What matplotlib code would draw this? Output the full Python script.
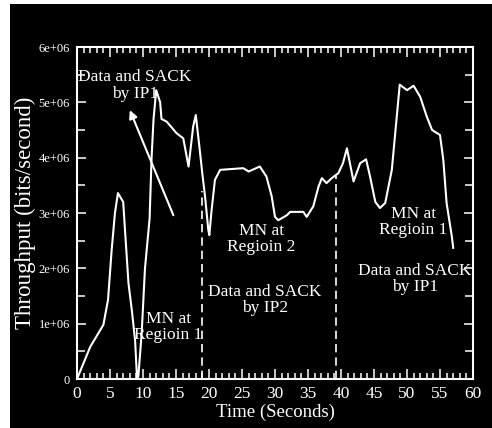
import matplotlib
matplotlib.use("Agg")
import matplotlib.pyplot as plt
from matplotlib.patches import Rectangle
import numpy as np

# ---- data ----
time_s = [0, 2.0, 4.0, 4.7, 5.25, 5.75, 6.2, 7.0, 7.3, 7.8, 8.3, 8.8, 9.1, 9.3,
          9.8, 10.3, 11.0, 11.3, 11.6, 12.0, 12.6, 12.8, 13.6, 15.1, 16.1, 16.9,
          17.6, 18.0, 18.6, 19.0, 19.4, 19.9, 20.05, 20.4, 20.9, 21.7, 25.2, 26.0,
          27.7, 28.7, 29.5, 30.0, 30.5, 31.8, 32.3, 34.3, 34.8, 35.8, 36.6, 37.1,
          37.8, 38.6, 39.6, 40.3, 40.9, 41.9, 42.9, 43.8, 44.4, 45.2, 45.9, 46.7,
          47.7, 48.4, 48.9, 50.0, 51.0, 52.0, 53.0, 53.8, 55.0, 55.5, 56.0, 56.8, 57.0]
throughput = [0, 0.58e6, 0.98e6, 1.43e6, 2.33e6, 3.0e6, 3.36e6, 3.2e6, 2.64e6, 1.73e6,
              1.25e6, 0.7e6, 0.0, 0.05e6, 0.83e6, 2.0e6, 2.9e6, 4.0e6, 4.7e6, 5.22e6,
              5.0e6, 4.7e6, 4.65e6, 4.44e6, 4.35e6, 3.84e6, 4.56e6, 4.77e6, 4.14e6,
              3.7e6, 3.3e6, 2.69e6, 2.6e6, 3.06e6, 3.6e6, 3.78e6, 3.81e6, 3.75e6,
              3.84e6, 3.66e6, 3.3e6, 2.93e6, 2.87e6, 2.96e6, 3.02e6, 3.02e6, 2.93e6,
              3.12e6, 3.48e6, 3.63e6, 3.54e6, 3.63e6, 3.72e6, 3.9e6, 4.17e6, 3.57e6,
              3.9e6, 3.97e6, 3.66e6, 3.2e6, 3.09e6, 3.18e6, 3.78e6, 4.68e6, 5.32e6,
              5.22e6, 5.3e6, 5.1e6, 4.74e6, 4.5e6, 4.41e6, 3.96e6, 3.18e6, 2.57e6, 2.37e6]

handoff_t = [19.0, 39.2]
handoff_top = [3.4e6, 3.66e6]

x_ticks = [0, 5, 10, 15, 20, 25, 30, 35, 40, 45, 50, 55, 60]
y_ticks = [0, 1e6, 2e6, 3e6, 4e6, 5e6, 6e6]
y_tick_labels = ["0", "1e+06", "2e+06", "3e+06", "4e+06", "5e+06", "6e+06"]

labels = ["Data and SACK\nby IP1", "MN at\nRegioin 1", "MN at\nRegioin 2",
          "Data and SACK\nby IP2", "MN at\nRegioin 1", "Data and SACK\nby IP1"]
label_x = [8.8, 13.8, 27.9, 28.5, 51.0, 51.2]
label_y = [5.3e6, 0.94e6, 2.53e6, 1.43e6, 2.84e6, 1.81e6]

arrow_tail = (14.6, 2.96e6)
arrow_head = (8.0, 4.86e6)

# ---- figure ----
plt.rcParams['font.family'] = ['Liberation Serif', 'DejaVu Serif']
W, H = 492, 428
fig = plt.figure(figsize=(W / 100, H / 100), dpi=100, facecolor='white')
# black panel (reference has thin white margins at left/top)
fig.patches.append(Rectangle((10 / W, 0), 1 - 10 / W, 1 - 4 / H,
                             transform=fig.transFigure, facecolor='black',
                             edgecolor='none', zorder=-5))

ax = fig.add_axes([77 / W, 1 - 379 / H, (473 - 77) / W, (379 - 47) / H])
ax.set_zorder(2)
ax.set_facecolor('black')

ax.plot(time_s, throughput, color='white', lw=1.5, zorder=3)
for t, top in zip(handoff_t, handoff_top):
    ax.plot([t, t], [0, top], color='white', lw=1.2, dashes=(5, 3), zorder=2)

for s, x, y in zip(labels, label_x, label_y):
    ax.text(x, y, s, color='white', fontsize=12.5, ha='center', va='center',
            linespacing=1.05, zorder=4)

ax.annotate('', xy=arrow_head, xytext=arrow_tail,
            arrowprops=dict(arrowstyle='-|>', color='white', lw=1.5,
                            mutation_scale=12, shrinkA=0, shrinkB=0), zorder=4)

ax.set_xlim(0, 60)
ax.set_ylim(0, 6e6)
ax.set_xticks(x_ticks)
ax.set_xticklabels([str(v) for v in x_ticks])
ax.set_xticks(np.arange(0, 61, 1), minor=True)
ax.set_yticks(y_ticks)
ax.set_yticklabels(y_tick_labels)
ax.set_yticks(np.arange(0, 6.01e6, 0.5e6), minor=True)

for sp in ax.spines.values():
    sp.set_color('white')
    sp.set_linewidth(1.5)

ax.tick_params(axis='both', which='both', direction='in', colors='white',
               top=True, right=True, width=1.1)
ax.tick_params(axis='x', which='major', length=7.5, labelsize=12.5, pad=5)
ax.tick_params(axis='x', which='minor', length=4)
ax.tick_params(axis='y', which='major', length=6.5, labelsize=9, pad=5)
ax.tick_params(axis='y', which='minor', length=6)

ax.set_xlabel("Time (Seconds)", color='white', fontsize=13.5, labelpad=1)
ax.set_ylabel("Throughput (bits/second)", color='white', fontsize=16.5, labelpad=2)

fig.savefig("out.png", dpi=100, facecolor=fig.get_facecolor())
